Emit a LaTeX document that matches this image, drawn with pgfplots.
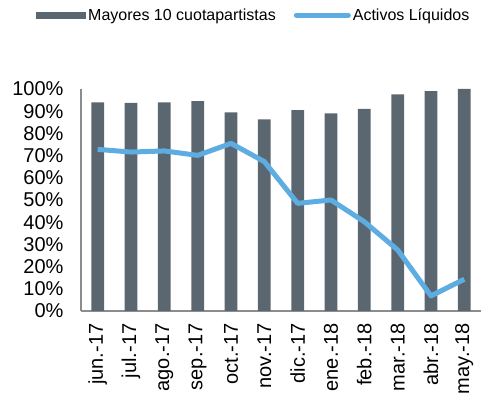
\documentclass[border=0pt]{standalone}
\usepackage{fontspec}
\setmainfont{Liberation Sans}
\usepackage{pgfplots}
\pgfplotsset{compat=1.18}
\definecolor{barc}{RGB}{91,103,112}
\definecolor{linec}{RGB}{93,173,226}
\definecolor{axc}{RGB}{140,140,140}
\begin{document}
\begin{tikzpicture}
\useasboundingbox (-81pt,-92pt) rectangle (407pt,311pt);
\begin{axis}[
  at={(0pt,0pt)}, anchor=south west,
  scale only axis, width=400pt, height=222pt,
  xmin=-0.5, xmax=11.5, ymin=0, ymax=100,
  axis lines=left,
  axis line style={draw=axc, -, line width=1.2pt},
  xtick={0,...,11},
  xticklabels={jun.-17,jul.-17,ago.-17,sep.-17,oct.-17,nov.-17,dic.-17,ene.-18,feb.-18,mar.-18,abr.-18,may.-18},
  ytick={0,10,...,100},
  yticklabels={0\%,10\%,20\%,30\%,40\%,50\%,60\%,70\%,80\%,90\%,100\%},
  major tick length=0pt,
  tick label style={font=\fontsize{20}{24}\selectfont},
  yticklabel style={xshift=-14pt},
  xticklabel style={rotate=90, anchor=east, yshift=0pt, xshift=-9pt},
  legend style={draw=none, fill=none, inner sep=0pt, at={(-0.1125,1.333)}, anchor=west,
    font=\fontsize{16}{19}\selectfont, legend cell align=left},
  legend columns=2,
  /tikz/every even column/.append style={column sep=16pt},
]
\addplot[ybar, bar width=12.7pt, fill=barc, draw=none,
  legend image code/.code={\fill[barc] (0pt,-3.5pt) rectangle (50pt,3.5pt);}]
  coordinates {(0,94.0) (1,93.8) (2,94.0) (3,94.5) (4,89.5) (5,86.3) (6,90.5) (7,89.0) (8,91.1) (9,97.6) (10,99.0) (11,100)};
\addlegendentry{Mayores 10 cuotapartistas}
\addplot[linec, line width=5pt, line join=round, mark=none,
  legend image code/.code={\draw[linec, line width=5pt, line cap=round] (2.5pt,0pt) -- (54.5pt,0pt);}]
  coordinates {(0,72.8) (1,71.6) (2,72.1) (3,70.1) (4,75.5) (5,67.3) (6,48.5) (7,50.0) (8,40.2) (9,27.5) (10,6.8) (11,14.3)};
\addlegendentry{Activos Líquidos}
\end{axis}
\end{tikzpicture}
\end{document}
